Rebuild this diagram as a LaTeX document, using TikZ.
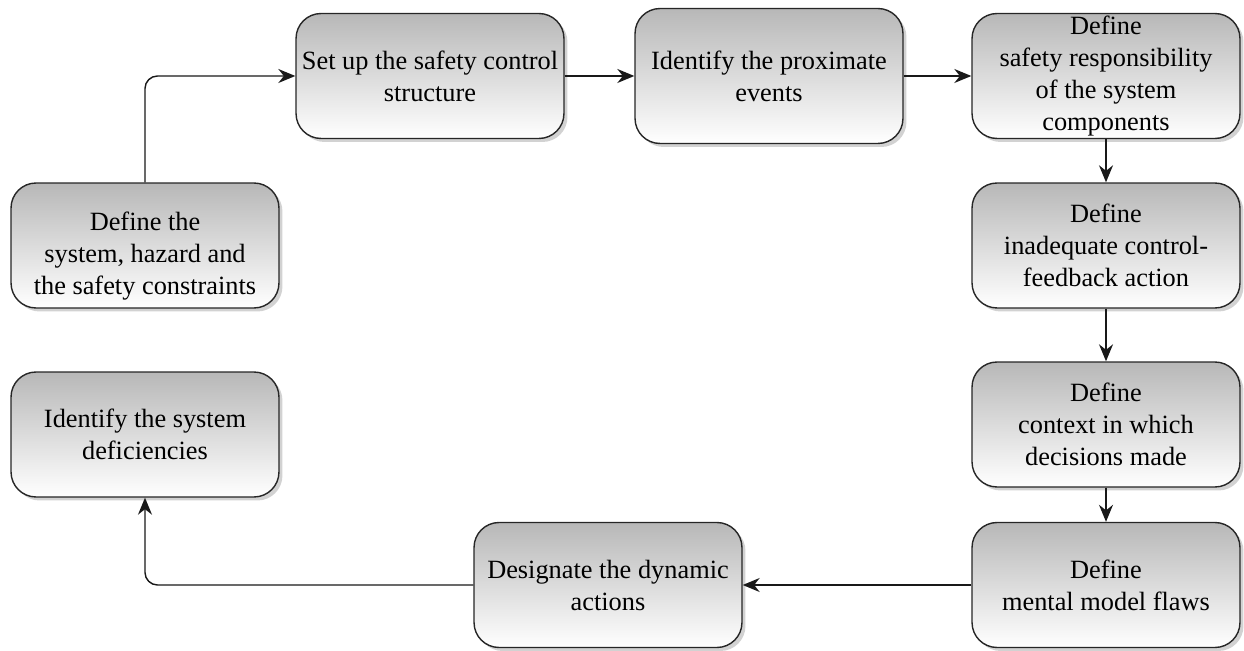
\documentclass[tikz,border=0pt]{standalone}
\usepackage{fontspec}
\setmainfont{Liberation Serif}
\newfontfamily\boxfont{Liberation Serif}
\usepackage{tikz}
\usetikzlibrary{arrows.meta, positioning, shadows, calc}

\begin{document}
\begin{tikzpicture}[x=0.02cm, y=-0.02cm, >={Stealth[length=3.4mm, width=2.8mm]},
  stagebox/.style={draw=black!85, line width=0.8pt, rounded corners=0.5cm,
        top color=black!28, bottom color=white,
        drop shadow={shadow xshift=0.07cm, shadow yshift=-0.07cm, fill=black!35},
        minimum width=5.36cm, minimum height=2.5cm, inner xsep=1pt,
        align=center, font=\boxfont\fontsize{15}{18.2}\selectfont},
  flow/.style={->, line width=0.8pt, black!90}]

  \useasboundingbox (0,0) rectangle (1244,651);

  % first column
  \node[stagebox] (sys) at (145,245.5)
        {\rule{0pt}{23pt}Define the\\system, hazard and\\the safety constraints};
  \node[stagebox] (defic) at (145,434.5)
        {Identify the system\\deficiencies};

  % top row
  \node[stagebox] (ctrl) at (430,76)
        {Set up the safety control\\structure};
  \node[stagebox, minimum height=2.7cm] (prox) at (769,76)
        {Identify the proximate\\events};
  \node[stagebox, inner ysep=0pt] (resp) at (1106,76)
        {Define\\safety responsibility\\of the system\\components};

  % right column
  \node[stagebox] (fbk) at (1106,245.5)
        {Define\\inadequate control-\\feedback action};
  \node[stagebox] (ctx) at (1106,424.5)
        {Define\\context in which\\decisions made};
  \node[stagebox] (mental) at (1106,585)
        {Define\\mental model flaws};

  % bottom row
  \node[stagebox] (dyn) at (608,585)
        {Designate the dynamic\\actions};

  % connectors
  \draw[flow, rounded corners=0.25cm] (sys.north) |- (ctrl.west);
  \draw[flow] (ctrl) -- (prox);
  \draw[flow] (prox) -- (resp);
  \draw[flow] (resp) -- (fbk);
  \draw[flow] (fbk) -- (ctx);
  \draw[flow] (ctx) -- (mental);
  \draw[flow] (mental) -- (dyn);
  \draw[flow, rounded corners=0.25cm] (dyn.west) -| (defic.south);

\end{tikzpicture}
\end{document}
